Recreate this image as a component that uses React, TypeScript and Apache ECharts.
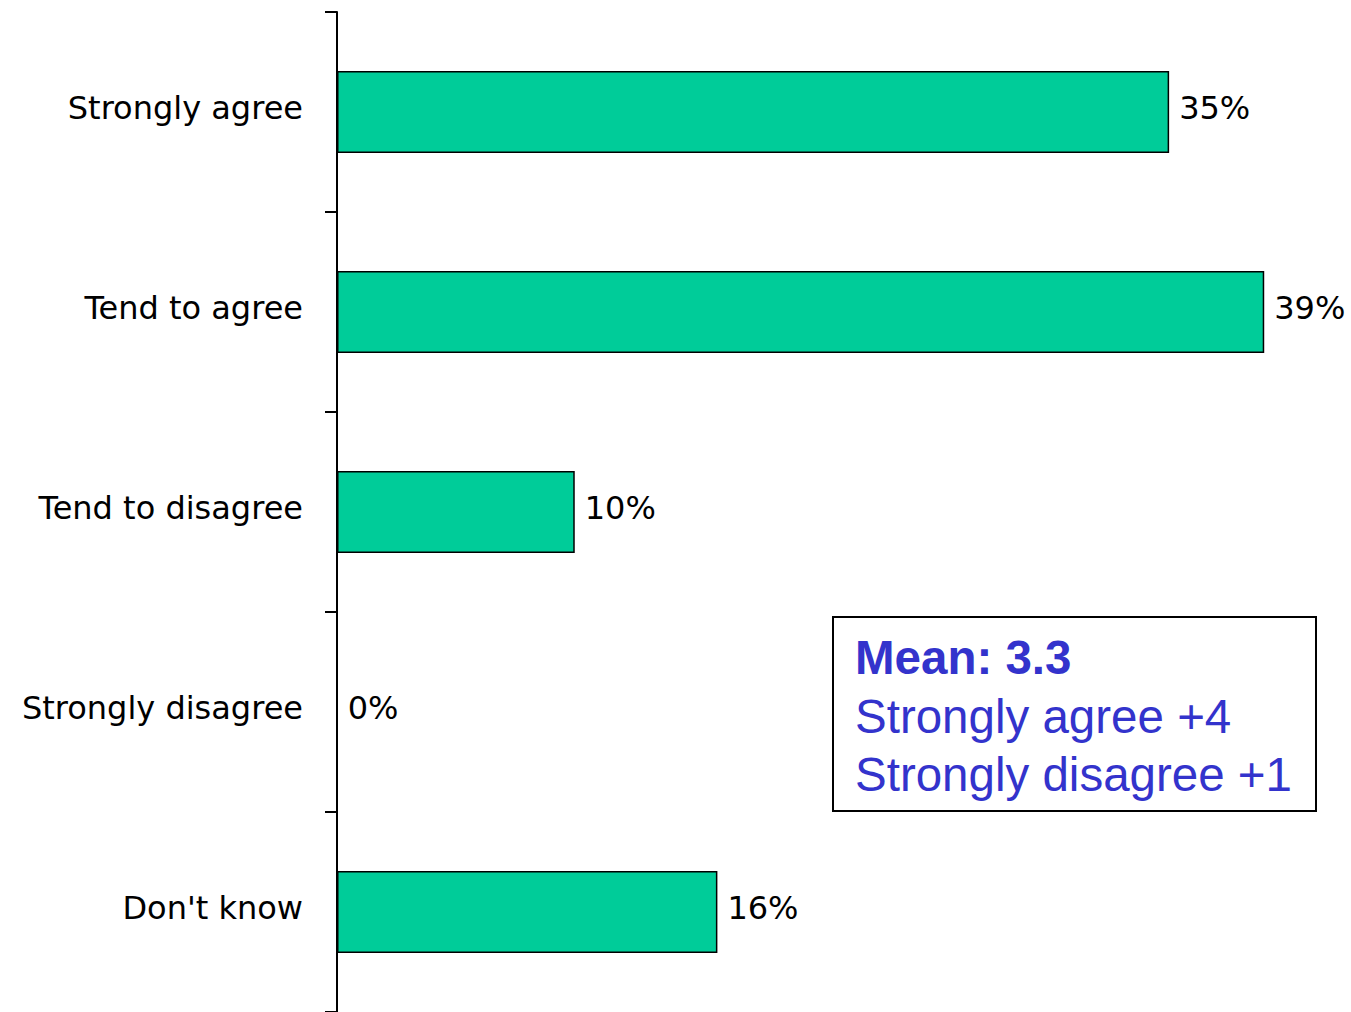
import React, { useEffect, useRef } from "react";
import * as echarts from "echarts";

const categories = ["Strongly agree", "Tend to agree", "Tend to disagree", "Strongly disagree", "Don't know"];
const values = [35, 39, 10, 0, 16];
const boxLines = ["Mean: 3.3", "Strongly agree +4", "Strongly disagree +1"];

export default function App() {
  const ref = useRef<HTMLDivElement>(null);
  useEffect(() => {
    if (!ref.current) return;
    const chart = echarts.init(ref.current, null, { renderer: "svg" });
    chart.setOption({
      animation: false,
      backgroundColor: "#ffffff",
      grid: { left: 337, top: 12, width: 951, height: 1000, containLabel: false },
      xAxis: { type: "value", min: 0, max: 40, show: false },
      yAxis: {
        type: "category",
        data: categories,
        inverse: true,
        boundaryGap: true,
        axisLine: { show: true, lineStyle: { color: "#000000", width: 2 } },
        axisTick: { show: true, length: 12, lineStyle: { color: "#000000", width: 2 } },
        axisLabel: {
          margin: 34,
          color: "#000000",
          fontFamily: "DejaVu Sans",
          fontSize: 32,
          verticalAlign: "bottom",
          lineHeight: 8,
        },
        splitLine: { show: false },
      },
      series: [
        {
          type: "bar",
          data: values,
          barWidth: 82,
          itemStyle: { color: "#00CC99", borderColor: "#000000", borderWidth: 1.5 },
          label: {
            show: true,
            position: "right",
            distance: 10,
            offset: [0, -4],
            formatter: "{c}%",
            color: "#000000",
            fontFamily: "DejaVu Sans",
            fontSize: 32,
          },
        },
      ],
      graphic: [
        {
          type: "rect",
          shape: { x: 833, y: 617, width: 483, height: 194 },
          style: { fill: "#ffffff", stroke: "#000000", lineWidth: 2 },
        },
        {
          type: "text",
          x: 855,
          y: 657,
          style: {
            text: boxLines[0],
            fill: "#3333CC",
            font: "bold 47.5px 'Liberation Sans', Arial, sans-serif",
            verticalAlign: "middle",
            align: "left",
          },
        },
        {
          type: "text",
          x: 855,
          y: 716,
          style: {
            text: boxLines[1],
            fill: "#3333CC",
            font: "47.5px 'Liberation Sans', Arial, sans-serif",
            verticalAlign: "middle",
            align: "left",
          },
        },
        {
          type: "text",
          x: 855,
          y: 774,
          style: {
            text: boxLines[2],
            fill: "#3333CC",
            font: "47.5px 'Liberation Sans', Arial, sans-serif",
            verticalAlign: "middle",
            align: "left",
          },
        },
      ],
    });
    return () => chart.dispose();
  }, []);
  return (
    <div
      ref={ref}
      style={{ position: "absolute", left: 0, top: 0, width: 1351, height: 1012 }}
    />
  );
}
